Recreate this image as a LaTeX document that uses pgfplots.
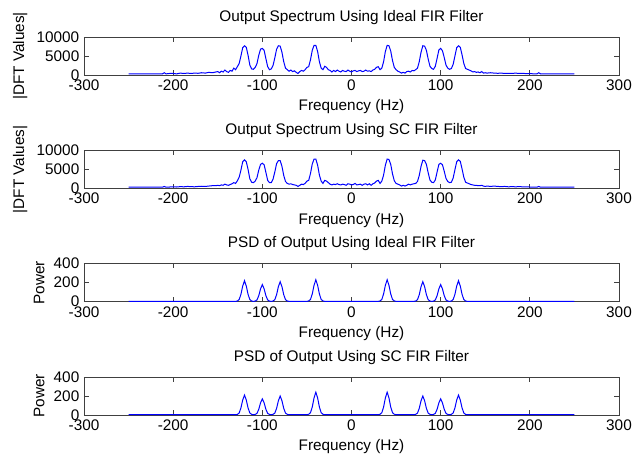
\documentclass[border=0pt]{standalone}
\usepackage{pgfplots}
\usepackage{pgfplotstable}
\usepackage{fontspec}
\setmainfont{Liberation Sans}
\pgfplotsset{compat=1.18}

% x, |DFT| ideal, |DFT| SC, PSD ideal, PSD SC
\pgfplotstableread{
x s1 s2 p1 p2
-250 300 300 3 3
-240 300 300 3 3
-230 300 300 3 3
-220 300 300 3 3
-212 300 300 3 3
-210 600 500 3 3
-208 300 300 3 3
-204 400 350 3 3
-200 400 400 3 3
-196 300 350 3 3
-192 500 450 3 3
-188 400 400 3 3
-184 500 500 3 3
-180 400 450 3 3
-176 500 400 3 3
-172 450 500 3 3
-168 600 550 3 3
-164 500 500 3 3
-160 700 600 3 3
-156 600 700 3 3
-152 800 700 3 3
-150 900 800 3 3
-148 600 700 3 3
-146 1000 900 3 3
-144 800 800 3 3
-142 1300 1100 3 3
-140 900 900 3 3
-138 700 800 3 3
-136 1200 1000 3 3
-134 1000 1200 3 3
-132 1800 1500 3 3
-130 1400 1300 3 3
-128 2200 2000 7 6
-126 3000 2900 22 21
-124 5000 4800 77 74
-122 7200 7000 165 158
-120 7700 7500 220 210
-118 7300 7000 165 158
-116 5200 5000 77 74
-114 2600 2500 22 21
-112 1600 1600 7 7
-110 1500 1500 3 3
-108 2000 1900 6 6
-106 3000 2800 18 17
-104 5200 4800 63 60
-102 6800 6300 135 128
-100 7000 6600 180 170
-98 6500 6200 135 128
-96 4300 4200 63 60
-94 2200 2100 18 17
-92 1400 1500 6 6
-90 1600 1500 3 3
-88 2500 2400 7 7
-86 4500 4300 21 20
-84 6800 6500 74 70
-82 7700 7300 158 150
-80 7600 7300 210 200
-78 6000 5800 158 150
-76 3500 3400 74 70
-74 1800 1800 21 20
-72 1400 1300 7 7
-70 1000 1100 3 3
-68 1300 1200 3 3
-66 900 1000 3 3
-64 1100 900 3 3
-62 700 800 3 3
-60 400 500 3 3
-58 900 800 3 3
-56 1200 1100 3 3
-54 1000 1000 3 3
-52 1400 1300 3 3
-50 2000 1900 3 3
-48 2200 2100 8 8
-46 4000 3900 23 24
-44 6500 6400 81 84
-42 7800 7700 173 180
-40 7800 7700 230 240
-38 6200 6100 173 180
-36 3500 3500 81 84
-34 1800 1900 23 24
-32 1400 1300 8 8
-30 2300 2100 3 3
-28 2000 1900 3 3
-26 1400 1500 3 3
-24 1200 1100 3 3
-22 800 900 3 3
-20 1200 1100 3 3
-18 900 1000 3 3
-16 1300 1200 3 3
-14 1000 1000 3 3
-12 800 900 3 3
-10 1200 1100 3 3
-8 1000 1000 3 3
-6 900 800 3 3
-4 1300 1200 3 3
-2 1000 1100 3 3
0 800 900 3 3
2 1100 1000 3 3
4 1200 1300 3 3
6 900 900 3 3
8 1100 1000 3 3
10 1200 1100 3 3
12 900 800 3 3
14 1000 1100 3 3
16 1300 1200 3 3
18 1000 900 3 3
20 1100 1200 3 3
22 900 800 3 3
24 1300 1200 3 3
26 1500 1400 3 3
28 2000 1900 3 3
30 2200 2100 3 3
32 1400 1300 8 8
34 1800 1900 23 24
36 3500 3500 81 84
38 6200 6100 173 180
40 7800 7700 230 240
42 7700 7600 173 180
44 6300 6300 81 84
46 3800 3800 23 24
48 2000 2000 8 8
50 1400 1300 3 3
52 1000 1100 3 3
54 800 900 3 3
56 500 600 3 3
58 700 800 3 3
60 500 600 3 3
62 900 800 3 3
64 1000 1100 3 3
66 800 900 3 3
68 1200 1100 3 3
70 1100 1200 3 3
72 1400 1300 7 7
74 1800 1800 21 20
76 3500 3400 74 70
78 6000 5800 158 150
80 7700 7400 210 200
82 7600 7300 158 150
84 6500 6300 74 70
86 4200 4100 21 20
88 2300 2200 7 7
90 1700 1600 3 3
92 1500 1500 6 6
94 2300 2200 18 17
96 4400 4300 63 60
98 6600 6300 135 128
100 7000 6600 180 170
102 6400 6200 135 128
104 4600 4500 63 60
106 2600 2600 18 17
108 1800 1800 6 6
110 1500 1500 3 3
112 1700 1600 7 7
114 2800 2700 22 21
116 5000 4900 77 74
118 7200 7000 165 158
120 7700 7500 220 210
122 7300 7100 165 158
124 5300 5100 77 74
126 3000 2900 22 21
128 1700 1600 7 6
130 1500 1400 3 3
132 1300 1200 3 3
134 1100 1000 3 3
136 800 900 3 3
138 900 800 3 3
140 700 800 3 3
142 800 700 3 3
144 600 700 3 3
146 900 800 3 3
148 500 600 3 3
150 600 500 3 3
152 500 600 3 3
156 600 500 3 3
160 500 600 3 3
164 450 500 3 3
168 500 450 3 3
172 400 500 3 3
176 450 400 3 3
180 400 450 3 3
184 500 400 3 3
188 400 450 3 3
192 450 400 3 3
196 350 400 3 3
200 400 350 3 3
204 300 300 3 3
208 300 300 3 3
210 600 500 3 3
212 300 300 3 3
220 300 300 3 3
230 300 300 3 3
240 300 300 3 3
250 300 300 3 3
}\spec

\pgfplotsset{
  panel/.style={
    width=401.25pt, height=28.5pt, scale only axis,
    anchor=north west,
    xmin=-300, xmax=300, xtick={-300,-200,...,300},
    tick align=inside, major tick length=3.4pt,
    axis line style={black!75, line width=0.7pt},
    every tick/.style={black!75, line width=0.7pt},
    font=\fontsize{11.5}{13}\selectfont,
    /pgf/number format/assume math mode=true,
    /pgf/number format/1000 sep={},
    scaled y ticks=false,
    xlabel={Frequency (Hz)},
    ymin=0,
  },
  spec/.style={panel, ymax=10000, ytick={0,5000,10000}, ylabel={|DFT Values|}},
  psd/.style={panel, ymax=400, ytick={0,200,400}, ylabel={Power}},
  trace/.style={blue, line width=0.75pt, mark=none},
}

\begin{document}
\begin{tikzpicture}
\begin{axis}[spec, name=a1, at={(0,0)}, title={Output Spectrum Using Ideal FIR Filter}]
  \addplot[trace] table[x=x, y=s1] {\spec};
\end{axis}
\begin{axis}[spec, at={(0,-85pt)}, title={Output Spectrum Using SC FIR Filter}]
  \addplot[trace] table[x=x, y=s2] {\spec};
\end{axis}
\begin{axis}[psd, at={(0,-170pt)}, title={PSD of Output Using Ideal FIR Filter}]
  \addplot[trace] table[x=x, y=p1] {\spec};
\end{axis}
\begin{axis}[psd, at={(0,-255pt)}, title={PSD of Output Using SC FIR Filter}]
  \addplot[trace] table[x=x, y=p2] {\spec};
\end{axis}
\pgfresetboundingbox
\path (a1.north west) ++(-63pt,27.75pt) rectangle ++(474.75pt,-345.75pt);
\end{tikzpicture}
\end{document}
